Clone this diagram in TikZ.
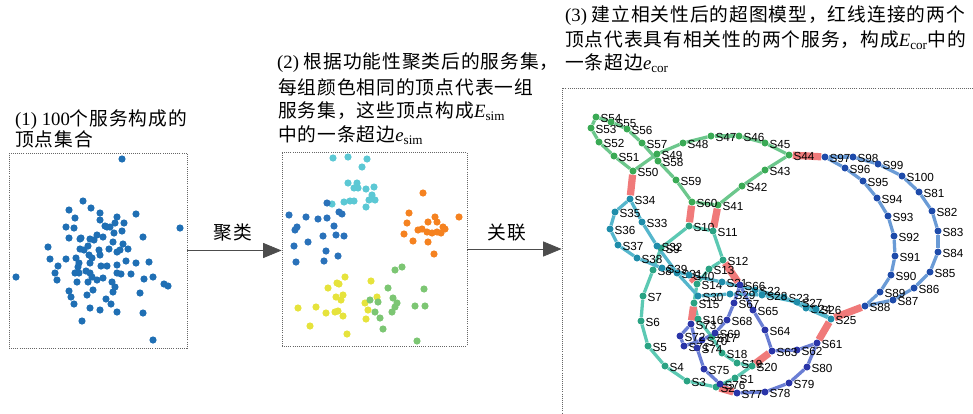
\documentclass[tikz,border=0pt]{standalone}
\usepackage{fontspec}
\setmainfont{Liberation Serif}
\newfontfamily\cjk[LetterSpace=5]{Noto Sans CJK SC}
\newfontfamily\labfont{Liberation Sans}
\usetikzlibrary{arrows.meta,backgrounds,fit}

\newcommand\capfont{\fontsize{16}{18}\selectfont}
\newcommand\labelfont{\labfont\fontsize{10}{10}\selectfont}

% scatter colours
\definecolor{allblue}{HTML}{1F6FB4}
\definecolor{grpcyan}{HTML}{5CC8D4}
\definecolor{grpblue}{HTML}{2A72BA}
\definecolor{grporange}{HTML}{F58220}
\definecolor{grpyellow}{HTML}{E6E33C}
\definecolor{grpgreen}{HTML}{7CC673}
% hypergraph colours
\definecolor{greendot}{HTML}{3AAA55}
\definecolor{greenline}{HTML}{6CC78C}
\definecolor{tealdot}{HTML}{2AA383}
\definecolor{tealline}{HTML}{5CC9B3}
\definecolor{cyandot}{HTML}{1F8DAA}
\definecolor{cyanline}{HTML}{55B6CC}
\definecolor{bluedot}{HTML}{2A35A8}
\definecolor{blueline}{HTML}{6A7ED4}
\definecolor{navydot}{HTML}{1E4BAA}
\definecolor{navyline}{HTML}{6A9BD6}
\definecolor{corline}{HTML}{F07A7A}

\tikzset{
  panel/.style={draw=black!60, densely dotted, line width=0.8pt, inner sep=0pt},
  captext/.style={anchor=base west, inner sep=0pt, font=\capfont},
  flow/.style={draw=black!70, line width=0.6pt, -{Triangle[length=0.55cm,width=0.45cm]}},
  lab/.style={font=\labelfont, inner sep=0.5pt, yshift=-1.2pt},
  vdot/.style={circle, inner sep=0pt, minimum size=0.21cm, label distance=1pt},
  gv/.style={vdot, fill=greendot},
  tv/.style={vdot, fill=tealdot},
  cv/.style={vdot, fill=cyandot},
  bv/.style={vdot, fill=bluedot},
  nv/.style={vdot, fill=navydot},
  ge/.style={draw=greenline, line width=2.8pt},
  te/.style={draw=tealline, line width=2.8pt},
  ce/.style={draw=cyanline, line width=2.8pt},
  be/.style={draw=blueline, line width=2.8pt},
  ne/.style={draw=navyline, line width=2.8pt},
  corr/.style={draw=corline, line width=6.2pt}
}

\begin{document}
\begin{tikzpicture}[x=0.03cm, y=-0.03cm]
  \useasboundingbox (0,0) rectangle (973,413);

  % panel boxes
  \node[panel, fit={(9,153) (187,348)}] (box1) {};
  \node[panel, fit={(282,152) (467,346)}] (box2) {};
  \begin{scope}
    \clip (0,0) rectangle (973,413);
    \node[panel, fit={(562,88) (990,430)}] (box3) {};
  \end{scope}

  % captions
  \node[captext] (cap1a) at (15,125) {(1) 100{\cjk 个服务构成的}};
  \node[captext] (cap1b) at (15,146) {\cjk 顶点集合};
  \node[captext] (cap2a) at (277,68) {(2) {\cjk 根据功能性聚类后的服务集，}};
  \node[captext] (cap2b) at (278,94) {\cjk 每组颜色相同的顶点代表一组};
  \node[captext] (cap2c) at (278,117) {{\cjk 服务集，这些顶点构成}{\itshape E}\textsubscript{sim}};
  \node[captext] (cap2d) at (278,141) {{\cjk 中的一条超边}{\itshape e}\textsubscript{sim}};
  \node[captext] (cap3a) at (565,21) {(3) {\cjk 建立相关性后的超图模型，红线连接的两个}};
  \node[captext] (cap3b) at (565,46) {{\cjk 顶点代表具有相关性的两个服务，构成}{\itshape E}\textsubscript{cor}{\cjk 中的}};
  \node[captext] (cap3c) at (565,69) {{\cjk 一条超边}{\itshape e}\textsubscript{cor}};

  % arrows between panels
  \draw[flow] (box1.east) -- (box1.east -| box2.west);
  \draw[flow] (box2.east) -- (box2.east -| box3.west);
  \node[font=\capfont, inner sep=0pt] (step1) at (233,232) {\cjk 聚类};
  \node[font=\capfont, inner sep=0pt] (step2) at (507,232) {\cjk 关联};

  % (1) all services
  \foreach \x/\y in {122/159, 83/201, 69/210, 91/208, 100/213, 75/218, 100/220, 117/217,
      136/214, 66/227, 74/228, 105/226, 110/227, 115/223, 124/223, 122/231, 114/233,
      180/228, 69/238, 80/239, 90/239, 97/235, 94/240, 113/242, 143/237, 48/247, 80/249,
      84/250, 99/250, 100/255, 109/249, 117/252, 120/250, 123/244, 128/249, 50/259,
      66/259, 58/266, 76/258, 79/263, 89/255, 90/263, 78/267, 86/271, 101/266, 107/266,
      117/265, 126/261, 136/263, 149/262, 16/277, 55/273, 57/280, 75/273, 79/273, 90/273,
      92/277, 97/280, 103/278, 112/282, 117/273, 121/274, 131/274, 144/279, 153/277,
      164/284, 168/286, 77/282, 88/282, 87/295, 93/290, 113/292, 115/287, 69/291, 71/297,
      74/304, 106/299, 111/304, 140/293, 90/308, 100/310, 117/312, 143/313, 82/321,
      153/340, 81/238, 88/246, 92/258, 103/237, 107/227}
    \fill[allblue] (\x,\y) circle (3.6);

  % (2) clustered services
  \foreach \x/\y in {333/158, 348/157, 367/159, 362/167, 348/183, 357/183, 354/188,
      358/188, 366/189, 374/187, 372/195, 369/200, 375/200, 354/201, 350/201, 344/202,
      332/204, 366/207}
    \fill[grpcyan] (\x,\y) circle (3.6);
  \foreach \x/\y in {327/203, 339/212, 342/214, 289/215, 306/217, 318/219, 327/218,
      297/227, 295/230, 334/226, 308/242, 323/236, 336/235, 344/236, 294/246, 326/251,
      338/256, 296/262, 324/261}
    \fill[grpblue] (\x,\y) circle (3.6);
  \foreach \x/\y in {423/193, 409/213, 459/217, 407/223, 435/217, 428/222, 437/222,
      422/229, 427/232, 432/233, 437/232, 443/227, 445/229, 441/233, 404/234, 413/241,
      428/242, 434/254, 418/230}
    \fill[grporange] (\x,\y) circle (3.6);
  \foreach \x/\y in {345/277, 337/283, 339/284, 371/281, 328/288, 336/297, 343/295,
      341/300, 377/297, 365/303, 316/307, 298/308, 326/313, 335/312, 338/311, 343/316,
      368/310, 366/319, 310/326, 347/334}
    \fill[grpyellow] (\x,\y) circle (3.6);
  \foreach \x/\y in {395/270, 402/267, 388/288, 424/289, 393/298, 370/300, 378/302,
      397/303, 395/307, 392/312, 415/306, 425/306, 375/312, 380/318, 383/329, 417/341}
    \fill[grpgreen] (\x,\y) circle (3.6);

  % (3) hypergraph vertices
  \foreach \n/\x/\y in {41/718/205, 42/742/186, 43/765/170, 44/789/155, 45/765/143,
      46/739/136, 47/711/136, 48/683/143, 49/657/154, 50/633/171, 51/614/156,
      52/599/142, 53/591/128, 54/596/117, 55/611/122, 56/627/129, 57/642/143,
      58/658/161, 59/676/180, 60/692/202}
    \node[gv, label={[lab]0:S\n}] (S\n) at (\x,\y) {};
  \foreach \n/\x/\y in {1/735/378, 2/716/387, 3/687/381, 4/665/366, 5/648/346,
      6/641/321, 7/643/296, 8/653/270, 9/661/248, 10/689/226, 11/713/231, 12/723/260,
      13/709/269, 14/697/284, 15/694/303, 16/698/319, 17/712/337, 18/722/353,
      19/737/363, 20/752/366}
    \node[tv, label={[lab]0:S\n}] (S\n) at (\x,\y) {};
  \foreach \n/\x/\y in {21/722/282, 22/755/290, 23/784/297, 24/806/308, 25/831/319,
      26/816/309, 27/797/302, 28/762/295, 29/730/294, 30/698/296, 31/677/273,
      32/657/246, 33/642/222, 34/630/199, 35/615/212, 36/610/229, 37/618/245,
      38/637/258, 39/662/268, 40/689/275}
    \node[cv, label={[lab]0:S\n}] (S\n) at (\x,\y) {};
  \foreach \n/\x/\y in {61/817/343, 62/797/350, 63/772/351, 64/765/330, 65/753/310,
      66/740/285, 67/734/303, 68/727/320, 69/715/333, 70/702/340, 71/684/346,
      72/680/336, 73/691/324, 74/697/348, 75/704/369, 76/720/384, 77/737/393,
      78/765/392, 79/789/383, 80/807/367}
    \node[bv, label={[lab]0:S\n}] (S\n) at (\x,\y) {};
  \foreach \n/\x/\y in {81/919/192, 82/932/211, 83/938/231, 84/938/252, 85/930/272,
      86/914/288, 87/893/300, 88/865/306, 89/880/292, 90/891/275, 91/895/256,
      92/894/236, 93/888/216, 94/877/198, 95/863/181, 96/845/168, 97/825/157,
      98/853/157, 99/878/164, 100/902/176}
    \node[nv, label={[lab]0:S\n}] (S\n) at (\x,\y) {};

  % hyperedges, under the vertices
  \begin{scope}[on background layer]
    \foreach \i [remember=\i as \j (initially 60)] in {41,...,60}
      \draw[ge] (S\j) -- (S\i);
    \foreach \i [remember=\i as \j (initially 20)] in {1,...,20}
      \draw[te] (S\j) -- (S\i);
    \foreach \i [remember=\i as \j (initially 40)] in {21,...,40}
      \draw[ce] (S\j) -- (S\i);
    \foreach \i [remember=\i as \j (initially 80)] in {61,...,80}
      \draw[be] (S\j) -- (S\i);
    \foreach \i [remember=\i as \j (initially 100)] in {81,...,100}
      \draw[ne] (S\j) -- (S\i);
    % correlated pairs
    \foreach \a/\b in {50/34, 60/10, 41/11, 44/97, 12/66, 40/14, 15/73, 20/63,
        2/77, 25/88, 25/61}
      \draw[corr] (S\a) -- (S\b);
  \end{scope}
\end{tikzpicture}
\end{document}
